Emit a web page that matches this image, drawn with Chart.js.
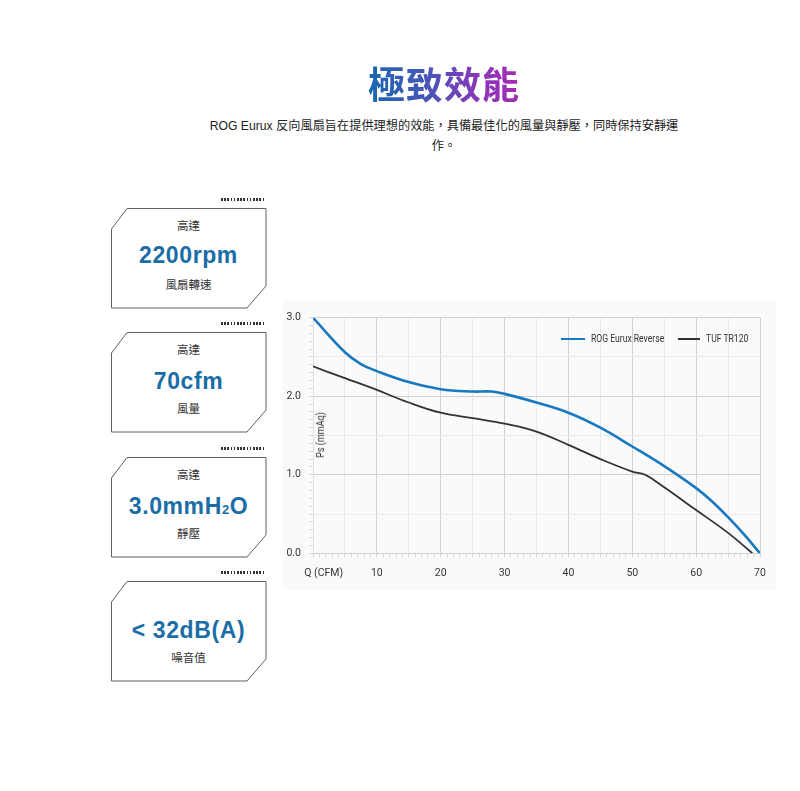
<!DOCTYPE html>
<html>
<head>
<meta charset="utf-8">
<script src="https://cdn.jsdelivr.net/npm/chart.js@4.4.1/dist/chart.umd.min.js"></script>
<style>
  html, body { margin:0; padding:0; background:#fff; }
  body { width:800px; height:791px; position:relative; overflow:hidden;
         font-family: "Liberation Sans", Arial, "Noto Sans CJK TC", sans-serif; color:#222; }
  .titlewrap { position:absolute; left:244px; width:400px; top:58px; text-align:center; }
  .title { display:inline-block;
           font-family:"Noto Sans CJK TC", sans-serif; font-weight:700; font-size:37px; line-height:50px;
           letter-spacing:1px;
           background:linear-gradient(90deg,#1768b0 0%,#4a55b8 40%,#8a36b8 75%,#a62bb4 100%);
           -webkit-background-clip:text; background-clip:text; color:transparent; }
  .sub { position:absolute; left:194px; width:500px; top:117px; text-align:center;
         font-size:12.2px; line-height:19.5px; color:#222;
         font-family:"Liberation Sans", Arial, "Noto Sans CJK TC", sans-serif; }
  .dots { position:absolute; left:221px; width:45px; height:3px;
          background:repeating-linear-gradient(90deg,#333 0 1.6px,transparent 1.6px 3.2px); }
  .box { position:absolute; left:110px; width:158px; height:102px; }
  .box svg { position:absolute; left:0; top:0; }
  .box .t { position:absolute; left:0; width:157px; text-align:center; color:#333;
            font-family:"Noto Sans CJK TC", sans-serif; font-size:11.5px; line-height:16px; }
  .box .big { position:absolute; left:0; width:157px; text-align:center; color:#1a6da6;
              font-family:"Liberation Sans", Arial, sans-serif; font-weight:700; font-size:23px; line-height:26px;
              letter-spacing:0.6px; }
  #panel { position:absolute; left:283px; top:300px; width:493px; height:290px; background:#fafafa; }
  .ylab { position:absolute; left:291px; top:429px; width:60px; text-align:center;
          transform:rotate(-90deg) scaleX(0.86); transform-origin:center;
          font-family:Roboto,"Liberation Sans",sans-serif; font-size:10.5px; color:#333; line-height:12px; }
  .legend { position:absolute; top:332px; left:530px; width:218px; height:14px;
            display:flex; justify-content:flex-end; align-items:center;
            font-family:Roboto,"Liberation Sans",sans-serif; font-size:10px; color:#333; line-height:14px; white-space:nowrap; }
  .legend .item { display:flex; align-items:center; }
  .legend .txt { display:inline-block; transform:scaleX(0.86); transform-origin:left center; }
  .legend .ln { display:inline-block; margin-right:6px; }
</style>
</head>
<body>
<div class="titlewrap"><span class="title">極致效能</span></div>
<div class="sub">ROG Eurux 反向風扇旨在提供理想的效能，具備最佳化的風量與靜壓，同時保持安靜運<br>作。</div>

<div id="boxes"></div>

<div id="panel"><canvas id="c"></canvas></div>
<div class="ylab">Ps (mmAq)</div>
<div class="legend" id="legend"></div>

<script>
// ---- data ----
const flowROG = [0, 5, 7.5, 10, 15, 20, 25, 28, 30, 35, 40, 45, 50, 55, 60, 62.5, 65, 67.5, 70];
const psROG   = [3.0, 2.56, 2.41, 2.32, 2.18, 2.09, 2.06, 2.06, 2.03, 1.92, 1.79, 1.60, 1.36, 1.11, 0.83, 0.66, 0.46, 0.24, 0.0];
const flowTUF = [0, 5, 10, 15, 20, 25, 30, 35, 40, 45, 50, 52, 55, 60, 65, 68.8];
const psTUF   = [2.38, 2.23, 2.08, 1.92, 1.79, 1.72, 1.65, 1.55, 1.38, 1.20, 1.04, 1.00, 0.84, 0.55, 0.26, 0.0];
const seriesNames = ['ROG Eurux Reverse', 'TUF TR120'];
const seriesColors = ['#1878c0', '#333333'];
const xAxisName = 'Q (CFM)';
const specTop    = ['高達', '高達', '高達', ''];
const specValue  = ['2200rpm', '70cfm', '3.0mmH<span style="font-size:13px;">2</span>O', '&lt; 32dB(A)'];
const specBottom = ['風扇轉速', '風量', '靜壓', '噪音值'];

// ---- spec boxes ----
const boxesEl = document.getElementById('boxes');
const boxTops = [207.7, 332.2, 456.7, 581.2];
boxTops.forEach((top, i) => {
  const d = document.createElement('div');
  d.className = 'dots';
  d.style.top = (top - 10) + 'px';
  boxesEl.appendChild(d);
  const b = document.createElement('div');
  b.className = 'box';
  b.style.top = top + 'px';
  b.innerHTML =
    '<svg width="158" height="102"><polygon points="17,0.5 156,0.5 156,78 137,100 1.5,100 1.5,21" fill="#fff" stroke="#606060" stroke-width="1"/></svg>' +
    (specTop[i] ? '<div class="t" style="top:9px;">' + specTop[i] + '</div>' : '') +
    '<div class="big" style="top:' + (i === 0 ? 34 : 36) + 'px;">' + specValue[i] + '</div>' +
    '<div class="t" style="top:68px;">' + specBottom[i] + '</div>';
  boxesEl.appendChild(b);
});

// ---- legend ----
const legEl = document.getElementById('legend');
seriesNames.forEach((n, i) => {
  const it = document.createElement('div');
  it.className = 'item';
  it.style.marginLeft = i ? '15px' : '0';
  const w = i ? 22 : 24, h = i ? 2 : 2.6;
  const txtW = i ? 42 : 72;
  it.innerHTML = '<span class="ln" style="width:' + w + 'px;height:' + h + 'px;background:' + seriesColors[i] + ';"></span>' +
                 '<span style="display:inline-block;width:' + txtW + 'px;overflow:visible;"><span class="txt">' + n + '</span></span>';
  legEl.appendChild(it);
});

// ---- chart ----
const toPts = (xs, ys) => xs.map((x, i) => ({ x: x, y: ys[i] }));
const tickFont = { family: 'Roboto,"Liberation Sans",sans-serif', size: 10.5 };

new Chart(document.getElementById('c'), {
  type: 'line',
  data: {
    datasets: [
      { label: seriesNames[0], data: toPts(flowROG, psROG), borderColor: seriesColors[0], borderWidth: 2.6,
        pointRadius: 0, tension: 0.4, fill: false },
      { label: seriesNames[1], data: toPts(flowTUF, psTUF), borderColor: seriesColors[1], borderWidth: 1.8,
        pointRadius: 0, tension: 0.4, fill: false }
    ]
  },
  options: {
    responsive: true,
    maintainAspectRatio: false,
    animation: false,
    layout: { autoPadding: false, padding: { left: 0, right: 16, top: 17.7, bottom: 0 } },
    plugins: { legend: { display: false }, tooltip: { enabled: false } },
    scales: {
      x: {
        type: 'linear', min: 0, max: 70,
        afterFit: (a) => { a.height = 36.7; a.paddingLeft = 0; a.paddingRight = 0; },
        border: { color: '#cfcfcf' },
        grid: {
          color: (c) => { const v = Math.round(c.tick.value); return v % 10 === 0 ? '#d2d2d2' : (v % 5 === 0 ? '#ebebeb' : 'rgba(0,0,0,0)'); },
          tickColor: '#d6d6d6', tickLength: 4
        },
        ticks: {
          stepSize: 1, autoSkip: false, maxRotation: 0, minRotation: 0, padding: 10,
          color: '#333', font: tickFont,
          callback: (v) => { v = Math.round(v); return v === 0 ? '\u2002\u2002\u2002\u2002' + xAxisName : (v % 10 === 0 ? String(v) : ''); }
        }
      },
      y: {
        min: 0, max: 3,
        afterFit: (a) => { a.width = 30; a.paddingTop = 0; a.paddingBottom = 0; },
        border: { color: '#e2e2e2' },
        grid: {
          color: (c) => { const v = Math.round(c.tick.value * 10); return v % 10 === 0 ? '#d2d2d2' : (v % 5 === 0 ? '#ebebeb' : 'rgba(0,0,0,0)'); },
          tickColor: '#d9d9d9', tickLength: 4
        },
        ticks: {
          stepSize: 0.1, autoSkip: false, padding: 8, color: '#333', font: tickFont,
          callback: (v) => { const k = Math.round(v * 10); return k % 10 === 0 ? (k / 10).toFixed(1) : ''; }
        }
      }
    }
  }
});
</script>
</body>
</html>
